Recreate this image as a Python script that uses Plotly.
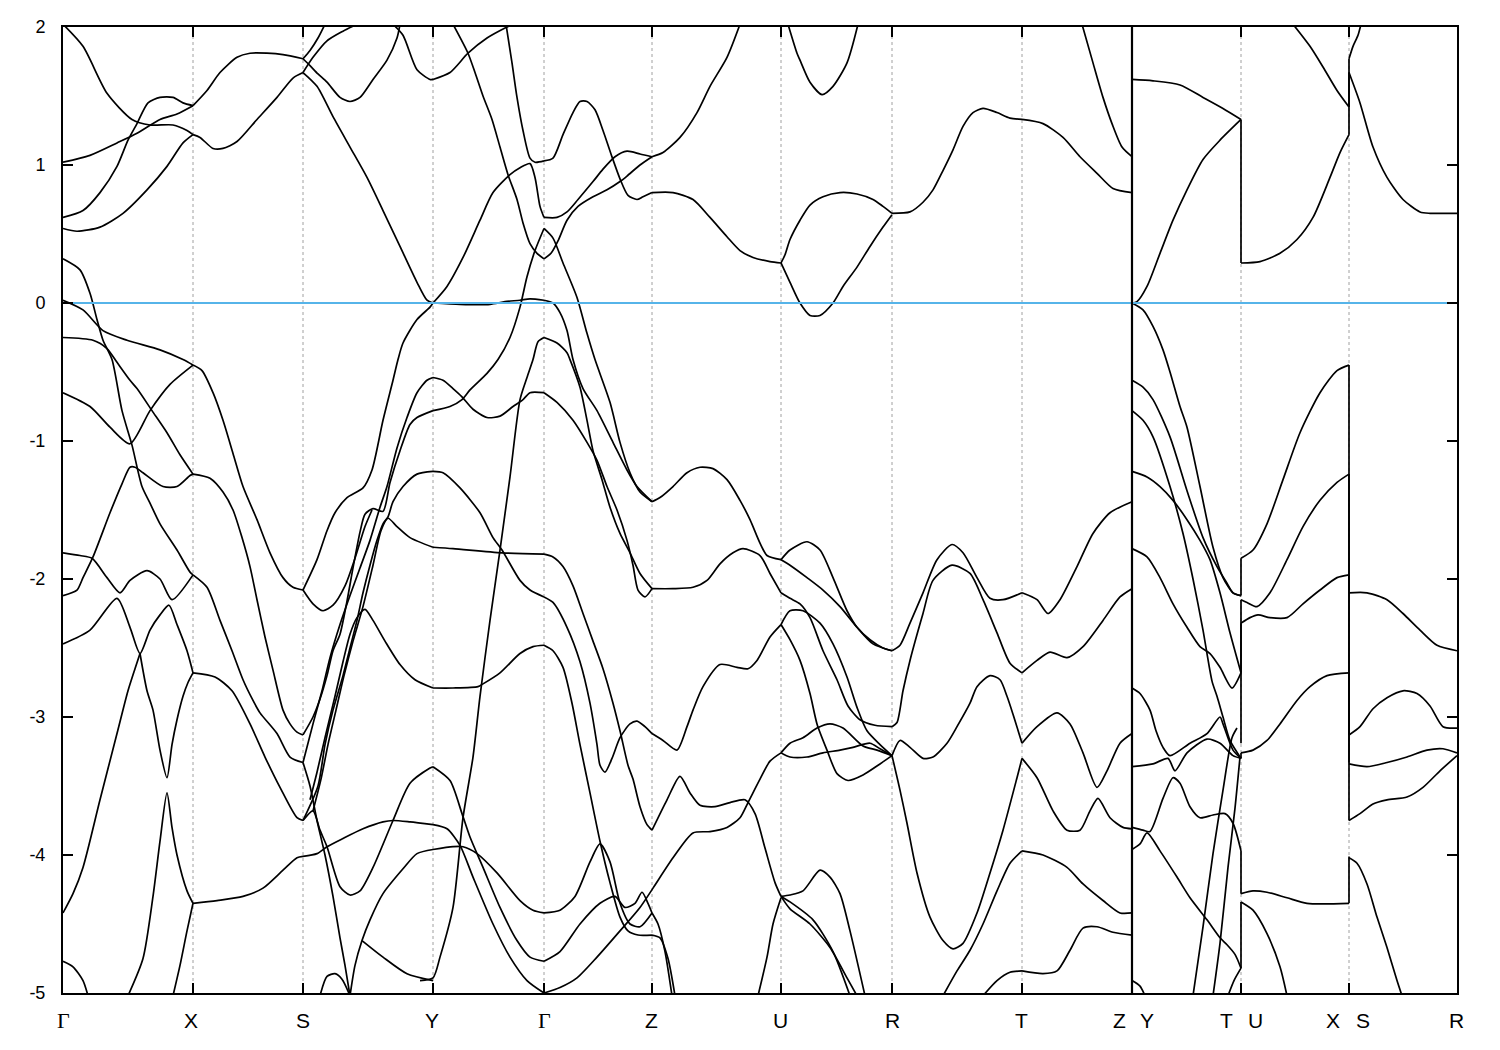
import plotly.graph_objects as go

# ---------------- high-symmetry path (path-length units) ----------------
sym_k = [0, 130, 240, 370, 481, 589, 718, 829, 959, 1069, 1178, 1286, 1394]
dashed_k = [130, 240, 370, 481, 589, 718, 829, 959, 1178, 1286]
break_k = 1069
label_text = ["Γ", "X", "S", "Y", "Γ", "Z", "U", "R", "T", "Z", "Y", "T", "U", "X", "S", "R"]
label_k = [0, 128, 240, 369, 481, 588, 717, 829, 958, 1056, 1084, 1163, 1192, 1270, 1300, 1393]
y_ticks = [2, 1, 0, -1, -2, -3, -4, -5]
fermi_level = 0.0

# ---------------- bands, (k, E in eV) per path segment ----------------
seg_gamma_x = [
    [(0, 2.02), (20, 1.86), (44, 1.52), (69, 1.33), (87, 1.29), (110, 1.29), (124, 1.25), (130, 1.22)],
    [(0, 1.02), (27, 1.07), (54, 1.16), (74, 1.23), (97, 1.33), (114, 1.37), (130, 1.43)],
    [(0, 0.62), (20, 0.67), (37, 0.80), (54, 0.99), (65, 1.18), (74, 1.30), (85, 1.45), (97, 1.49), (110, 1.49), (120, 1.45), (130, 1.43)],
    [(0, 0.54), (14, 0.52), (37, 0.55), (60, 0.65), (84, 0.82), (104, 0.99), (120, 1.16), (130, 1.22)],
    [(0, 0.32), (17, 0.24), (27, 0.07), (34, -0.12), (40, -0.27), (49, -0.41), (59, -0.78), (69, -1.03), (79, -1.33), (87, -1.45), (97, -1.60), (114, -1.79), (127, -1.95), (130, -1.97)],
    [(0, 0.02), (20, -0.05), (40, -0.20), (64, -0.27), (97, -0.34), (120, -0.41), (130, -0.45)],
    [(0, -0.25), (30, -0.27), (44, -0.33), (54, -0.43), (67, -0.56), (74, -0.62), (89, -0.78), (104, -0.94), (117, -1.10), (130, -1.24)],
    [(0, -0.65), (27, -0.75), (47, -0.90), (67, -1.02), (87, -0.78), (107, -0.59), (130, -0.45)],
    [(0, -2.12), (14, -2.08), (20, -1.99), (30, -1.84), (47, -1.52), (59, -1.31), (67, -1.19), (72, -1.19), (80, -1.23), (100, -1.33), (114, -1.33), (127, -1.25), (130, -1.24)],
    [(0, -1.81), (17, -1.83), (29, -1.85), (44, -1.99), (57, -2.10), (67, -2.01), (84, -1.94), (97, -2.0), (109, -2.15), (130, -1.97)],
    [(0, -2.47), (27, -2.37), (54, -2.14), (67, -2.35), (77, -2.54), (87, -2.37), (97, -2.26), (106, -2.19), (114, -2.33), (124, -2.52), (130, -2.68)],
    [(0, -4.42), (10, -4.28), (20, -4.09), (37, -3.60), (54, -3.12), (65, -2.81), (72, -2.65), (77, -2.54)],
    [(77, -2.54), (84, -2.81), (90, -2.95), (97, -3.24), (104, -3.44), (109, -3.2), (114, -3.02), (120, -2.85), (125, -2.75), (130, -2.68)],
    [(65, -5.02), (80, -4.75), (90, -4.3), (97, -3.9), (104, -3.55), (109, -3.8), (114, -4.0), (124, -4.26), (130, -4.35)],
    [(130, -4.35), (124, -4.55), (117, -4.8), (110, -5.02)],
    [(0, -4.77), (10, -4.81), (20, -4.91), (25, -5.02)],
]

seg_x_s = [
    [(130, 1.43), (144, 1.54), (157, 1.67), (174, 1.78), (187, 1.81), (204, 1.81), (220, 1.80), (240, 1.77)],
    [(130, 1.22), (137, 1.20), (150, 1.12), (160, 1.12), (174, 1.17), (194, 1.33), (214, 1.49), (230, 1.63), (240, 1.67)],
    [(130, -0.45), (139, -0.49), (150, -0.65), (160, -0.85), (170, -1.09), (180, -1.33), (194, -1.57), (207, -1.81), (220, -1.99), (230, -2.06), (240, -2.08)],
    [(130, -1.24), (147, -1.27), (160, -1.37), (170, -1.50), (179, -1.70), (187, -1.91), (194, -2.15), (202, -2.42), (210, -2.66), (220, -2.95), (227, -3.05), (234, -3.11), (240, -3.13)],
    [(130, -1.97), (144, -2.06), (157, -2.30), (169, -2.52), (180, -2.73), (190, -2.88), (197, -2.97), (214, -3.12), (227, -3.29), (240, -3.33)],
    [(130, -2.68), (152, -2.71), (169, -2.81), (187, -3.05), (202, -3.29), (217, -3.51), (234, -3.73), (240, -3.75)],
    [(130, -4.35), (154, -4.33), (180, -4.30), (200, -4.24), (220, -4.11), (234, -4.02), (240, -4.01)],
]

seg_s_y = [
    [(240, 1.77), (247, 1.83), (255, 1.92), (262, 2.02)],
    [(240, 1.67), (250, 1.78), (264, 1.90), (280, 1.97), (294, 2.02)],
    [(240, 1.77), (247, 1.72), (255, 1.66), (264, 1.60), (277, 1.49), (287, 1.46), (297, 1.49), (310, 1.62), (324, 1.76), (334, 1.92), (337, 2.02)],
    [(240, 1.67), (254, 1.57), (270, 1.35), (287, 1.13), (304, 0.91), (320, 0.67), (337, 0.41), (354, 0.15), (364, 0.02), (370, 0.0)],
    [(330, 2.02), (340, 1.94), (354, 1.69), (367, 1.62), (370, 1.62)],
    [(240, -2.08), (254, -1.86), (264, -1.65), (272, -1.52), (284, -1.41), (300, -1.34), (309, -1.21), (320, -0.85), (330, -0.56), (335, -0.41), (340, -0.29), (354, -0.12), (367, -0.03), (370, 0.0)],
    [(240, -3.33), (250, -3.05), (259, -2.81), (267, -2.57), (277, -2.33), (287, -2.12), (297, -1.92), (307, -1.72), (317, -1.48), (324, -1.33), (334, -1.05), (344, -0.83), (354, -0.65), (364, -0.56), (370, -0.54)],
    [(240, -3.13), (250, -3.0), (257, -2.87), (264, -2.7), (270, -2.52), (277, -2.4), (284, -2.16), (290, -1.92), (297, -1.66), (302, -1.53), (310, -1.49), (320, -1.51), (327, -1.30), (337, -1.07), (347, -0.88), (354, -0.83), (370, -0.78)],
    [(240, -3.75), (255, -3.5), (262, -3.2), (270, -2.95), (280, -2.7), (287, -2.5), (294, -2.3), (300, -2.1), (307, -1.9), (314, -1.72), (320, -1.6), (325, -1.55), (330, -1.44), (340, -1.33), (354, -1.24), (370, -1.22)],
    [(250, -3.68), (258, -3.45), (265, -3.2), (273, -2.95), (281, -2.7), (290, -2.45), (300, -2.2), (310, -1.9), (318, -1.65), (325, -1.56), (334, -1.62), (347, -1.70), (370, -1.77)],
    [(240, -2.08), (250, -2.18), (260, -2.23), (270, -2.19), (282, -2.05), (292, -1.85), (302, -1.62), (309, -1.5)],
    [(247, -3.6), (254, -3.4), (262, -3.15), (272, -2.85), (280, -2.6), (287, -2.4), (294, -2.28), (302, -2.22), (310, -2.3), (322, -2.45), (337, -2.62), (352, -2.73), (370, -2.79)],
    [(240, -4.01), (254, -3.99), (264, -3.94), (280, -3.88), (300, -3.81), (320, -3.76), (330, -3.75), (347, -3.76), (370, -3.78)],
    [(240, -3.75), (250, -3.68), (257, -3.82), (264, -3.94), (277, -4.23), (287, -4.29), (297, -4.26), (310, -4.09), (330, -3.75), (347, -3.48), (367, -3.37), (370, -3.36)],
    [(370, -3.96), (354, -3.99), (340, -4.1), (320, -4.28), (307, -4.47), (299, -4.62), (292, -4.8), (287, -5.02)],
    [(299, -4.62), (320, -4.74), (344, -4.86), (370, -4.91)],
    [(240, -3.33), (247, -3.5), (254, -3.75), (262, -4.0), (270, -4.3), (277, -4.6), (282, -4.8), (287, -5.02)],
    [(257, -5.02), (264, -4.88), (272, -4.86), (279, -4.9), (287, -5.02)],
]

seg_y_gamma = [
    [(370, 1.62), (387, 1.67), (405, 1.81), (424, 1.92), (444, 2.0), (450, 2.02)],
    [(390, 2.02), (405, 1.81), (412, 1.67), (420, 1.50), (429, 1.33), (437, 1.13), (445, 0.93), (454, 0.75), (460, 0.58), (467, 0.43), (474, 0.36), (481, 0.32)],
    [(443, 2.02), (449, 1.74), (454, 1.49), (460, 1.25), (467, 1.05), (472, 1.02), (481, 1.03)],
    [(370, 0.0), (384, 0.12), (400, 0.33), (417, 0.60), (430, 0.80), (447, 0.93), (457, 0.98), (467, 1.01), (472, 0.91), (477, 0.70), (481, 0.62)],
    [(370, -0.78), (387, -0.75), (399, -0.70), (407, -0.63), (424, -0.51), (435, -0.41), (447, -0.25), (457, -0.03), (464, 0.19), (472, 0.38), (481, 0.54)],
    [(370, 0.0), (397, -0.01), (427, -0.01), (442, 0.01), (457, 0.02), (467, 0.03), (481, 0.02)],
    [(370, -0.54), (380, -0.56), (390, -0.62), (399, -0.68), (410, -0.77), (424, -0.83), (437, -0.82), (450, -0.75), (460, -0.70), (467, -0.65), (481, -0.65)],
    [(357, -4.91), (370, -4.89), (377, -4.74), (390, -4.38), (400, -3.73), (410, -3.29), (417, -2.85), (427, -2.3), (437, -1.79), (447, -1.26), (457, -0.70), (464, -0.54), (470, -0.41), (475, -0.28), (481, -0.25)],
    [(370, -1.22), (380, -1.23), (397, -1.34), (417, -1.52), (430, -1.70), (439, -1.79), (457, -2.01), (467, -2.08), (481, -2.13)],
    [(370, -1.77), (390, -1.78), (439, -1.81), (481, -1.82)],
    [(370, -2.79), (390, -2.79), (415, -2.78), (420, -2.76), (437, -2.68), (457, -2.54), (470, -2.49), (481, -2.48)],
    [(370, -3.36), (387, -3.46), (399, -3.70), (407, -3.87), (420, -4.09), (437, -4.38), (454, -4.62), (467, -4.74), (481, -4.77)],
    [(370, -3.78), (384, -3.81), (397, -3.93), (410, -4.16), (430, -4.50), (447, -4.74), (464, -4.91), (481, -5.0)],
    [(370, -3.96), (390, -3.94), (400, -3.94), (414, -3.99), (434, -4.13), (457, -4.33), (470, -4.40), (481, -4.42)],
]

seg_gamma_z = [
    [(481, 1.03), (490, 1.05), (500, 1.22), (510, 1.38), (517, 1.46), (524, 1.46), (532, 1.40), (540, 1.25), (548, 1.08), (557, 0.90), (565, 0.78), (574, 0.75), (580, 0.77), (589, 0.80)],
    [(481, 0.62), (494, 0.62), (504, 0.66), (515, 0.75), (530, 0.88), (540, 0.97), (552, 1.06), (564, 1.10), (577, 1.08), (589, 1.06)],
    [(481, 0.32), (488, 0.36), (495, 0.45), (504, 0.60), (515, 0.70), (530, 0.77), (544, 0.82), (557, 0.88), (564, 0.92), (577, 1.0), (589, 1.06)],
    [(481, 0.54), (490, 0.47), (500, 0.29), (514, 0.04), (524, -0.22), (532, -0.41), (547, -0.72), (557, -1.01), (567, -1.23), (577, -1.37), (589, -1.44)],
    [(481, 0.02), (490, 0.0), (497, -0.07), (504, -0.2), (510, -0.41), (520, -0.62), (534, -0.78), (550, -1.01), (564, -1.21), (574, -1.33), (589, -1.44)],
    [(481, -0.25), (494, -0.29), (504, -0.36), (507, -0.41), (517, -0.61), (524, -0.85), (530, -1.07), (539, -1.28), (547, -1.48), (557, -1.67), (567, -1.81), (577, -1.96), (589, -2.07)],
    [(481, -0.65), (494, -0.72), (510, -0.85), (524, -1.01), (534, -1.14), (544, -1.33), (554, -1.50), (564, -1.72), (570, -1.90), (575, -2.08), (582, -2.13), (589, -2.07)],
    [(481, -1.82), (490, -1.84), (500, -1.91), (510, -2.05), (520, -2.25), (530, -2.45), (540, -2.65), (550, -2.9), (557, -3.1), (565, -3.35), (570, -3.45), (577, -3.65), (584, -3.78), (589, -3.82)],
    [(481, -2.13), (490, -2.17), (504, -2.35), (517, -2.6), (527, -2.9), (534, -3.2), (537, -3.35), (542, -3.40), (549, -3.3), (557, -3.15), (567, -3.05), (574, -3.03), (582, -3.07), (589, -3.12)],
    [(481, -2.48), (490, -2.52), (500, -2.64), (509, -2.9), (517, -3.2), (527, -3.55), (537, -3.9), (547, -4.2), (557, -4.45), (565, -4.55), (575, -4.58), (589, -4.58)],
    [(481, -4.42), (497, -4.40), (512, -4.3), (527, -4.05), (537, -3.92), (547, -4.05), (557, -4.35), (567, -4.5), (577, -4.52), (589, -4.42)],
    [(481, -4.77), (497, -4.70), (517, -4.5), (537, -4.35), (552, -4.3), (562, -4.38), (572, -4.35), (579, -4.27), (585, -4.35), (589, -4.42)],
    [(481, -5.0), (497, -4.96), (514, -4.89), (534, -4.74), (557, -4.55), (577, -4.38), (590, -4.24), (610, -4.02), (630, -3.84), (647, -3.83), (664, -3.80), (677, -3.73), (685, -3.62), (697, -3.45), (707, -3.32), (718, -3.26)],
]

seg_z_u = [
    [(589, 1.06), (600, 1.09), (617, 1.20), (634, 1.38), (647, 1.57), (664, 1.78), (677, 2.02)],
    [(589, 0.80), (610, 0.80), (630, 0.75), (647, 0.62), (664, 0.48), (677, 0.38), (690, 0.33), (707, 0.30), (718, 0.29)],
    [(725, 2.02), (734, 1.81), (737, 1.76), (747, 1.60), (759, 1.51), (770, 1.57), (784, 1.74), (795, 2.02)],
    [(589, -1.44), (597, -1.41), (610, -1.33), (624, -1.23), (637, -1.19), (650, -1.20), (664, -1.28), (677, -1.43), (687, -1.57), (697, -1.74), (704, -1.83), (718, -1.86)],
    [(589, -2.07), (610, -2.07), (630, -2.06), (644, -2.01), (657, -1.89), (670, -1.81), (680, -1.78), (697, -1.83), (707, -1.96), (718, -2.10)],
    [(589, -3.12), (600, -3.17), (614, -3.24), (624, -3.07), (630, -2.95), (640, -2.78), (657, -2.62), (674, -2.64), (685, -2.65), (694, -2.59), (707, -2.42), (718, -2.33)],
    [(589, -3.82), (604, -3.60), (617, -3.43), (627, -3.55), (637, -3.64), (652, -3.65), (667, -3.62), (682, -3.60), (692, -3.70), (702, -3.95), (712, -4.2), (718, -4.3)],
    [(589, -4.42), (595, -4.5), (602, -4.7), (609, -5.02)],
    [(589, -4.58), (597, -4.6), (605, -4.75), (612, -5.02)],
    [(695, -5.02), (704, -4.74), (710, -4.5), (718, -4.31)],
]

seg_u_r = [
    [(718, 0.29), (722, 0.35), (727, 0.46), (737, 0.60), (747, 0.71), (760, 0.77), (777, 0.80), (794, 0.79), (810, 0.75), (820, 0.70), (829, 0.65)],
    [(718, 0.29), (727, 0.15), (737, 0.0), (747, -0.09), (757, -0.09), (770, 0.0), (780, 0.12), (794, 0.26), (807, 0.41), (820, 0.55), (829, 0.64)],
    [(718, -1.86), (727, -1.79), (744, -1.73), (757, -1.79), (770, -1.99), (784, -2.23), (794, -2.35), (807, -2.44), (820, -2.50), (829, -2.52)],
    [(718, -1.86), (727, -1.90), (744, -1.99), (760, -2.08), (777, -2.20), (794, -2.35), (810, -2.47), (829, -2.52)],
    [(718, -2.10), (727, -2.14), (737, -2.18), (747, -2.28), (760, -2.52), (774, -2.73), (785, -2.92), (797, -3.02), (812, -3.06), (829, -3.07)],
    [(718, -2.33), (727, -2.23), (740, -2.23), (757, -2.32), (770, -2.47), (784, -2.71), (794, -2.93), (804, -3.1), (817, -3.2), (829, -3.28)],
    [(718, -2.33), (727, -2.44), (737, -2.59), (747, -2.83), (754, -3.05), (764, -3.24), (774, -3.41), (785, -3.46), (800, -3.42), (817, -3.34), (829, -3.28)],
    [(718, -3.26), (727, -3.19), (740, -3.15), (754, -3.08), (767, -3.05), (780, -3.08), (800, -3.21), (814, -3.24), (829, -3.28)],
    [(718, -3.26), (727, -3.29), (744, -3.29), (760, -3.26), (777, -3.24), (790, -3.22), (807, -3.19), (817, -3.23), (829, -3.28)],
    [(718, -4.3), (727, -4.29), (740, -4.26), (757, -4.11), (767, -4.16), (777, -4.28), (787, -4.55), (802, -5.02)],
    [(718, -4.3), (727, -4.39), (747, -4.5), (767, -4.67), (784, -4.89), (794, -5.02)],
    [(718, -4.3), (727, -4.34), (750, -4.47), (770, -4.7), (787, -5.02)],
]

seg_r_t = [
    [(829, 0.65), (847, 0.66), (860, 0.73), (870, 0.82), (880, 0.96), (890, 1.11), (900, 1.28), (910, 1.38), (920, 1.41), (934, 1.38), (947, 1.34), (959, 1.33)],
    [(829, -2.52), (837, -2.48), (847, -2.32), (860, -2.10), (874, -1.86), (889, -1.75), (900, -1.81), (914, -1.99), (927, -2.14), (940, -2.15), (959, -2.10)],
    [(829, -3.07), (834, -3.04), (840, -2.81), (847, -2.59), (860, -2.25), (870, -2.01), (889, -1.90), (907, -1.96), (920, -2.15), (934, -2.39), (947, -2.61), (959, -2.68)],
    [(829, -3.28), (837, -3.17), (847, -3.22), (860, -3.30), (870, -3.29), (884, -3.19), (894, -3.07), (907, -2.90), (914, -2.78), (927, -2.70), (937, -2.73), (944, -2.85), (950, -2.98), (959, -3.19)],
    [(829, -3.28), (837, -3.53), (844, -3.77), (854, -4.13), (867, -4.45), (880, -4.62), (890, -4.68), (900, -4.64), (914, -4.42), (927, -4.13), (940, -3.82), (954, -3.44), (959, -3.30)],
    [(880, -5.02), (894, -4.84), (907, -4.69), (920, -4.5), (934, -4.26), (947, -4.06), (959, -3.97)],
    [(920, -5.02), (934, -4.91), (947, -4.85), (959, -4.84)],
]

seg_t_z = [
    [(959, 1.33), (980, 1.30), (1000, 1.20), (1017, 1.06), (1034, 0.94), (1050, 0.83), (1069, 0.80)],
    [(1019, 2.02), (1030, 1.74), (1040, 1.49), (1049, 1.30), (1059, 1.13), (1069, 1.06)],
    [(959, -2.10), (974, -2.15), (985, -2.25), (997, -2.15), (1014, -1.91), (1030, -1.67), (1047, -1.52), (1069, -1.44)],
    [(959, -2.68), (974, -2.59), (987, -2.53), (1004, -2.57), (1020, -2.49), (1040, -2.30), (1057, -2.13), (1069, -2.07)],
    [(959, -3.19), (974, -3.07), (994, -2.97), (1007, -3.05), (1020, -3.26), (1034, -3.51), (1044, -3.39), (1057, -3.19), (1069, -3.12)],
    [(959, -3.30), (974, -3.44), (990, -3.68), (1004, -3.82), (1017, -3.82), (1027, -3.68), (1035, -3.59), (1047, -3.73), (1060, -3.80), (1069, -3.81)],
    [(959, -3.97), (980, -4.0), (1004, -4.09), (1020, -4.21), (1040, -4.33), (1057, -4.42), (1069, -4.42)],
    [(959, -4.84), (980, -4.86), (994, -4.84), (1007, -4.69), (1020, -4.53), (1034, -4.52), (1050, -4.56), (1069, -4.58)],
]

seg_y_t = [
    [(1069, 1.62), (1090, 1.61), (1117, 1.58), (1140, 1.49), (1160, 1.41), (1178, 1.33)],
    [(1069, 0.0), (1074, 0.01), (1084, 0.12), (1097, 0.36), (1110, 0.60), (1124, 0.82), (1140, 1.04), (1157, 1.18), (1178, 1.33)],
    [(1069, 0.0), (1080, -0.05), (1090, -0.17), (1100, -0.34), (1107, -0.5), (1117, -0.75), (1124, -0.90), (1137, -1.33), (1150, -1.77), (1160, -1.99), (1170, -2.10), (1178, -2.12)],
    [(1069, -0.56), (1080, -0.61), (1090, -0.70), (1107, -0.97), (1124, -1.36), (1140, -1.70), (1154, -1.91), (1164, -2.03), (1170, -2.10), (1178, -2.12)],
    [(1069, -0.78), (1080, -0.85), (1090, -0.97), (1107, -1.33), (1120, -1.67), (1130, -2.0), (1140, -2.37), (1149, -2.74), (1154, -2.85), (1160, -3.0), (1167, -3.17), (1178, -3.30)],
    [(1069, -1.22), (1084, -1.26), (1097, -1.33), (1110, -1.43), (1124, -1.57), (1137, -1.72), (1147, -1.86), (1157, -2.10), (1167, -2.39), (1178, -2.68)],
    [(1069, -1.78), (1084, -1.84), (1097, -1.99), (1110, -2.18), (1124, -2.35), (1137, -2.49), (1147, -2.54), (1157, -2.64), (1169, -2.79), (1178, -2.68)],
    [(1069, -3.36), (1090, -3.34), (1105, -3.30), (1112, -3.39), (1124, -3.26), (1144, -3.16), (1157, -3.19), (1170, -3.28), (1178, -3.30)],
    [(1069, -2.79), (1077, -2.83), (1087, -2.95), (1093, -3.1), (1100, -3.22), (1107, -3.28), (1127, -3.19), (1144, -3.12), (1157, -3.0), (1160, -3.05), (1170, -3.24), (1178, -3.30)],
    [(1069, -3.80), (1080, -3.82), (1087, -3.83), (1100, -3.59), (1110, -3.44), (1117, -3.48), (1127, -3.65), (1137, -3.73), (1150, -3.71), (1162, -3.70), (1170, -3.77), (1178, -3.97)],
    [(1069, -3.96), (1077, -3.92), (1084, -3.84), (1097, -3.97), (1114, -4.16), (1127, -4.31), (1144, -4.47), (1157, -4.60), (1164, -4.65), (1172, -4.72), (1178, -4.82)],
    [(1069, -4.91), (1077, -4.95), (1082, -5.02)],
    [(1130, -5.02), (1140, -4.52), (1150, -3.99), (1160, -3.53), (1169, -3.15), (1174, -3.08)],
    [(1150, -5.02), (1157, -4.64), (1165, -4.09), (1172, -3.66), (1177, -3.29)],
    [(1165, -5.02), (1171, -4.91), (1178, -4.82)],
]

seg_u_x = [
    [(1178, 0.29), (1197, 0.30), (1217, 0.36), (1234, 0.46), (1250, 0.62), (1267, 0.91), (1277, 1.09), (1286, 1.22)],
    [(1230, 2.02), (1247, 1.86), (1260, 1.71), (1274, 1.54), (1286, 1.42)],
    [(1178, -1.85), (1190, -1.79), (1204, -1.60), (1220, -1.28), (1237, -0.94), (1257, -0.65), (1274, -0.49), (1286, -0.45)],
    [(1178, -2.15), (1184, -2.17), (1194, -2.20), (1207, -2.10), (1224, -1.86), (1240, -1.62), (1257, -1.43), (1274, -1.30), (1286, -1.24)],
    [(1178, -2.32), (1187, -2.28), (1195, -2.26), (1207, -2.28), (1224, -2.28), (1240, -2.18), (1257, -2.08), (1274, -1.99), (1286, -1.97)],
    [(1178, -3.26), (1190, -3.24), (1204, -3.17), (1217, -3.05), (1234, -2.88), (1247, -2.78), (1264, -2.70), (1286, -2.68)],
    [(1178, -4.28), (1190, -4.26), (1204, -4.27), (1224, -4.31), (1244, -4.35), (1286, -4.35)],
    [(1178, -4.34), (1190, -4.40), (1204, -4.57), (1217, -4.81), (1224, -5.02)],
]

seg_s_r = [
    [(1286, 1.77), (1290, 1.86), (1295, 1.94), (1298, 2.02)],
    [(1286, 1.67), (1297, 1.45), (1310, 1.13), (1324, 0.91), (1340, 0.75), (1357, 0.66), (1367, 0.65), (1394, 0.65)],
    [(1286, -2.10), (1304, -2.10), (1324, -2.15), (1340, -2.25), (1357, -2.37), (1374, -2.48), (1394, -2.52)],
    [(1286, -3.13), (1297, -3.07), (1310, -2.94), (1324, -2.86), (1340, -2.81), (1354, -2.83), (1367, -2.92), (1380, -3.07), (1394, -3.08)],
    [(1286, -3.34), (1304, -3.36), (1324, -3.33), (1344, -3.29), (1364, -3.24), (1380, -3.23), (1394, -3.26)],
    [(1286, -3.75), (1297, -3.70), (1310, -3.63), (1324, -3.60), (1344, -3.58), (1360, -3.51), (1377, -3.39), (1394, -3.28)],
    [(1286, -4.02), (1294, -4.06), (1304, -4.21), (1314, -4.45), (1324, -4.67), (1334, -4.91), (1339, -5.02)],
]

# energy jumps at the path discontinuities (drawn as vertical steps)
jump_tu = [(1.33, 0.29), (-2.12, -1.85), (-2.68, -2.15), (-3.19, -2.32), (-3.30, -3.26), (-3.97, -4.28), (-4.82, -4.34)]
jump_xs = [(1.42, 1.77), (1.22, 1.67), (-0.45, -2.08), (-1.24, -3.13), (-1.97, -3.33), (-2.68, -3.75), (-4.35, -4.01)]

all_segments = [seg_gamma_x, seg_x_s, seg_s_y, seg_y_gamma, seg_gamma_z, seg_z_u,
                seg_u_r, seg_r_t, seg_t_z, seg_y_t, seg_u_x, seg_s_r]

# ---------------- figure ----------------
fig = go.Figure()
band_line = dict(color="black", width=1.7, shape="spline", smoothing=0.7)

for seg in all_segments:
    for band in seg:
        fig.add_trace(go.Scatter(x=[p[0] for p in band], y=[p[1] for p in band],
                                 mode="lines", line=band_line, hoverinfo="skip",
                                 showlegend=False))

for kpos, jumps in ((sym_k[10], jump_tu), (sym_k[11], jump_xs)):
    for a, b in jumps:
        fig.add_trace(go.Scatter(x=[kpos, kpos], y=[a, b], mode="lines",
                                 line=dict(color="black", width=1.7),
                                 hoverinfo="skip", showlegend=False))

fig.add_trace(go.Scatter(x=[sym_k[0], sym_k[-1]], y=[fermi_level, fermi_level], mode="lines",
                         line=dict(color="#56B4E9", width=2), hoverinfo="skip", showlegend=False))

shapes = []
for kd in dashed_k:
    shapes.append(dict(type="line", xref="x", yref="y", x0=kd, x1=kd, y0=-5, y1=2,
                       line=dict(color="#a0a0a0", width=1, dash="3px,3px"), layer="below"))
shapes.append(dict(type="line", xref="x", yref="y", x0=break_k, x1=break_k, y0=-5, y1=2,
                   line=dict(color="black", width=2.2), layer="above"))

annotations = []
for t, kx in zip(label_text, label_k):
    fam = "Liberation Serif, Times New Roman, serif" if t == "Γ" else "Liberation Sans, Arial, sans-serif"
    annotations.append(dict(x=kx, y=-0.028, xref="x", yref="paper", text=t, showarrow=False,
                            xanchor="center", yanchor="middle",
                            font=dict(family=fam, size=22 if t == "Γ" else 21, color="black")))

fig.update_layout(
    width=1500, height=1050, autosize=False,
    margin=dict(l=63, r=43, t=27, b=57),
    paper_bgcolor="white", plot_bgcolor="white",
    shapes=shapes, annotations=annotations,
    font=dict(family="Liberation Sans, Arial, sans-serif", size=18, color="black"),
)
fig.update_xaxes(range=[sym_k[0], sym_k[-1]], tickvals=sym_k, showticklabels=False,
                 ticks="inside", ticklen=10, tickwidth=2, tickcolor="black",
                 showline=True, linewidth=2, linecolor="black", mirror="ticks",
                 showgrid=False, zeroline=False)
fig.update_yaxes(range=[-5, 2], tickvals=y_ticks, ticktext=[str(v) for v in y_ticks],
                 ticks="inside", ticklen=10, tickwidth=2, tickcolor="black",
                 showline=True, linewidth=2, linecolor="black", mirror="ticks",
                 showgrid=False, zeroline=False, ticklabelstandoff=12,
                 tickfont=dict(family="Liberation Sans, Arial, sans-serif", size=18))

fig.write_html("out.html", config={"displayModeBar": False},
               post_script="document.body.style.margin='0';document.body.style.overflow='hidden';")
